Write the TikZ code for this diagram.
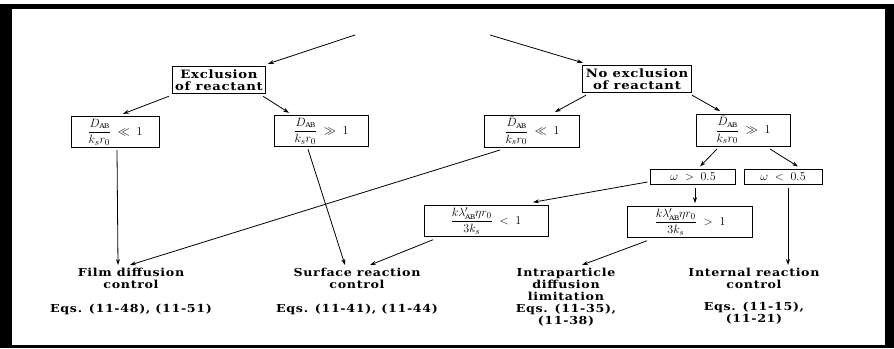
\documentclass[tikz,border=0pt]{standalone}
\usepackage{amsmath,amssymb}
\usepackage{fontspec}
\setmainfont{DejaVu Serif}[FakeStretch=1.15,LetterSpace=6]
\usetikzlibrary{arrows.meta,positioning,calc}
\tikzstyle{cond}=[draw,line width=0.9pt,inner sep=3pt,outer sep=3pt,align=center,font=\bfseries\fontsize{11.5}{11.5}\selectfont]
\tikzstyle{crit}=[cond,minimum height=29pt,inner sep=2pt,font=\fontsize{13}{15}\selectfont]
\tikzstyle{result}=[anchor=north,inner sep=0pt,outer sep=3pt,align=center,font=\bfseries\fontsize{11}{12}\selectfont]
\tikzstyle{arr}=[-{Stealth[length=6pt,width=4pt]},line width=0.8pt]

\begin{document}
\begin{tikzpicture}[x=1pt,y=-1pt]
\useasboundingbox (0,0) rectangle (894,348);
% frame
\fill[black] (0,4) rectangle (894,348);
\fill[white] (12,9) rectangle (885,345);
\coordinate (in1) at (355,35);
\coordinate (in2) at (490,35);
% first split
\node [cond] (excl) at (219,80) {Exclusion\\of reactant};
\node [cond] (noex) at (637,79) {No exclusion\\of reactant};
% criteria
\node [crit,minimum width=88pt] (dl) at (115,132)
  {$\dfrac{D_{\scriptscriptstyle\mathrm{AB}}}{k_s r_0} \;\ll\; 1$};
\node [crit,minimum width=94pt] (dr) at (321,131)
  {$\dfrac{D_{\scriptscriptstyle\mathrm{AB}}}{k_s r_0} \;\gg\; 1$};
\node [crit,minimum width=95pt] (ndl) at (532,131)
  {$\dfrac{\bar{D}_{\scriptscriptstyle\mathrm{AB}}}{k_s r_0} \;\ll\; 1$};
\node [crit,minimum width=94pt] (ndr) at (743,130)
  {$\dfrac{\bar{D}_{\scriptscriptstyle\mathrm{AB}}}{k_s r_0} \;\gg\; 1$};
\node [crit,minimum width=85pt,minimum height=15pt,inner sep=1pt] (wg) at (693,177) {$\omega \;>\; 0.5$};
\node [crit,minimum width=78pt,minimum height=15pt,inner sep=1pt] (wl) at (783,177) {$\omega \;<\; 0.5$};
\node [crit,minimum width=124pt] (fl) at (486,221)
  {$\dfrac{k\lambda'_{\scriptscriptstyle\mathrm{AB}}\eta r_0}{3k_s} \;<\; 1$};
\node [crit,minimum width=125pt,minimum height=31pt] (fg) at (690,222)
  {$\dfrac{k\lambda'_{\scriptscriptstyle\mathrm{AB}}\eta r_0}{3k_s} \;>\; 1$};
% regimes
\node [result] (film) at (131,265) {Film diffusion\\control\\[12pt]Eqs. (11-48), (11-51)};
\node [result] (surf) at (357,265) {Surface reaction\\control\\[12pt]Eqs. (11-41), (11-44)};
\node [result] (intra) at (566,265) {Intraparticle\\diffusion\\limitation\\Eqs. (11-35),\\(11-38)};
\node [result] (intern) at (754,265) {Internal reaction\\control\\[10pt]Eqs. (11-15),\\(11-21)};
% connectors
\draw [arr] (in1) -- (excl);
\draw [arr] (in2) -- (noex);
\draw [arr] ([xshift=-50pt]excl.south) -- ([xshift=8pt]dl.north);
\draw [arr] ([xshift=44pt]excl.south) -- ([xshift=-32pt]dr.north);
\draw [arr] ([xshift=2pt]dl.south) -- ([xshift=-13pt]film.north);
\draw [arr] ([xshift=-13pt]dr.south) -- ([xshift=-12pt]surf.north);
\draw [arr] ([xshift=-32pt]ndl.south) -- ([xshift=-1pt]film.north);
\draw [arr] ([xshift=-51pt]noex.south) -- ([xshift=23pt]ndl.north);
\draw [arr] ([xshift=55pt]noex.south) -- ([xshift=-23pt]ndr.north);
\draw [arr] ([xshift=-26pt]ndr.south) -- ([xshift=7pt]wg.north);
\draw [arr] ([xshift=27pt]ndr.south) -- ([xshift=15pt]wl.north);
\draw [arr] ([yshift=-5pt]wg.west) -- ([xshift=47pt]fl.north);
\draw [arr] ([xshift=2pt]wg.south) -- ([xshift=2pt]wg.south |- fg.north);
\draw [arr] ([xshift=-53pt]fl.south) -- ([xshift=13pt]surf.north);
\draw [arr] ([xshift=-43pt]fg.south) -- ([xshift=16pt]intra.north);
\draw [arr] ([xshift=5pt]wl.south) -- ([xshift=5pt]wl.south |- intern.north);
\end{tikzpicture}
\end{document}
